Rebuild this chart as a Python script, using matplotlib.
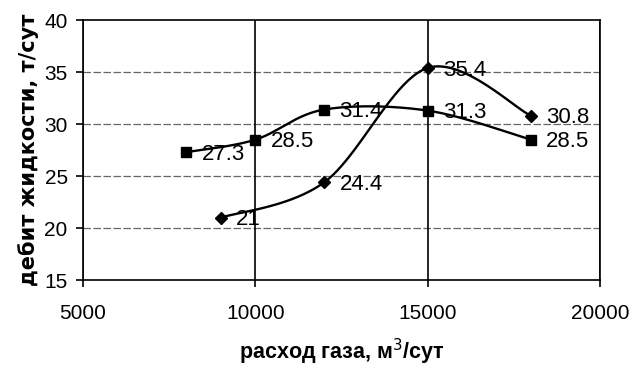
import numpy as np
import matplotlib.pyplot as plt

plt.rcParams['font.family'] = ['Liberation Sans', 'DejaVu Sans']

# gas rate, m3/day and liquid rate, t/day
gas_sq = [8000, 10000, 12000, 15000, 18000]
liq_sq = [27.3, 28.5, 31.4, 31.3, 28.5]
gas_dm = [9000, 12000, 15000, 18000]
liq_dm = [21, 24.4, 35.4, 30.8]

xticks = [5000, 10000, 15000, 20000]
yticks = [15, 20, 25, 30, 35, 40]


def smooth(xs, ys, ax, n=40):
    # bezier curve through points, control points from neighbours (1/6 rule)
    x0, x1 = ax.get_xlim()
    y0, y1 = ax.get_ylim()
    w = ax.bbox.width
    h = ax.bbox.height
    p = np.column_stack([(np.array(xs) - x0) / (x1 - x0) * w,
                         (np.array(ys) - y0) / (y1 - y0) * h])
    out = [p[0]]
    t = np.linspace(0, 1, n)[1:, None]
    for i in range(len(p) - 1):
        pa = p[i - 1] if i > 0 else p[i]
        pb = p[i + 2] if i + 2 < len(p) else p[i + 1]
        c1 = p[i] + (p[i + 1] - pa) / 6
        c2 = p[i + 1] - (pb - p[i]) / 6
        seg = ((1 - t) ** 3 * p[i] + 3 * (1 - t) ** 2 * t * c1
               + 3 * (1 - t) * t ** 2 * c2 + t ** 3 * p[i + 1])
        out.extend(seg)
    out = np.array(out)
    return (out[:, 0] / w * (x1 - x0) + x0,
            out[:, 1] / h * (y1 - y0) + y0)


fig = plt.figure(figsize=(6.43, 3.72), dpi=100)
ax = fig.add_axes([0.129, 0.247, 0.804, 0.699])
ax.set_xlim(5000, 20000)
ax.set_ylim(15, 40)
ax.set_xticks(xticks)
ax.set_yticks(yticks)

for y in yticks[1:-1]:
    ax.axhline(y, color='#666666', lw=0.9, ls=(0, (6, 2)), zorder=1)
for x in xticks:
    ax.axvline(x, color='black', lw=1.2, zorder=1)
for s in ax.spines.values():
    s.set_linewidth(1.2)

for xs, ys, m, ms in [(gas_sq, liq_sq, 's', 7), (gas_dm, liq_dm, 'D', 6.5)]:
    sx, sy = smooth(xs, ys, ax)
    ax.plot(sx, sy, color='black', lw=1.7, zorder=3)
    ax.plot(xs, ys, ls='none', marker=m, ms=ms, color='black', zorder=4)
    for x, y in zip(xs, ys):
        ax.annotate(f'{y:g}', (x, y), xytext=(11, -1.5), textcoords='offset points',
                    va='center', ha='left', fontsize=16, zorder=5)

ax.tick_params(labelsize=15, length=5, width=1.2, direction='out', pad=12)
ax.tick_params(axis='y', pad=6)
ax.set_xlabel('расход газа, м$^3$/сут', fontsize=15.5, fontweight='bold', labelpad=10)
ax.set_ylabel('дебит жидкости, т/сут', fontsize=15, fontweight='bold', labelpad=4,
              family=['DejaVu Sans'])

fig.savefig('out.png', dpi=100)
